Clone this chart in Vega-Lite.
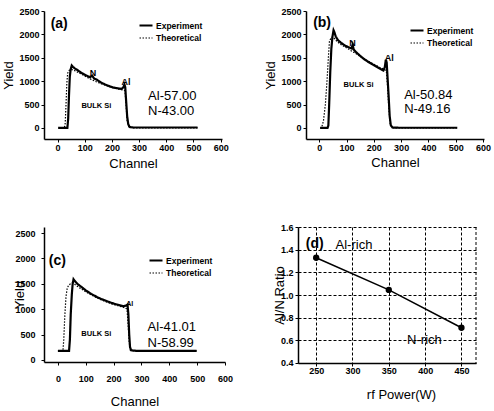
{
  "$schema": "https://vega.github.io/schema/vega-lite/v6.json",
  "background": "white",
  "padding": {"left": 2, "top": 7, "right": 5, "bottom": 5},
  "config": {
    "view": {"stroke": null},
    "font": "Liberation Sans",
    "axis": {"labelFont": "Liberation Sans", "labelFontWeight": "bold", "labelFontSize": 9, "labelColor": "black",
             "titleFont": "Liberation Sans", "titleFontSize": 13, "titleFontWeight": "normal", "titleColor": "black",
             "tickSize": 3, "tickColor": "black", "domainColor": "black", "domainWidth": 1.5, "grid": false,
             "labelOverlap": false, "labelFlush": false, "labelBound": false},
    "legend": {"symbolType": "stroke", "symbolStrokeColor": "black", "symbolSize": 169, "labelFont": "Liberation Sans",
               "labelFontSize": 8.5, "labelFontWeight": "bold", "labelColor": "black", "padding": 0, "labelOffset": 2, "title": null},
    "text": {"font": "Liberation Sans", "color": "black"}
  },
  "resolve": {"scale": {"strokeDash": "independent", "strokeWidth": "independent"}, "legend": {"strokeDash": "independent", "strokeWidth": "independent"}},
  "datasets": {
    "a": [
      {"ch": 2, "y": 0, "series": "Experiment"}, {"ch": 36, "y": 0, "series": "Experiment"}, {"ch": 39, "y": 200, "series": "Experiment"},
      {"ch": 42, "y": 700, "series": "Experiment"}, {"ch": 45, "y": 1100, "series": "Experiment"}, {"ch": 48, "y": 1250, "series": "Experiment"},
      {"ch": 52, "y": 1335, "series": "Experiment"}, {"ch": 56, "y": 1310, "series": "Experiment"}, {"ch": 62, "y": 1280, "series": "Experiment"},
      {"ch": 70, "y": 1250, "series": "Experiment"}, {"ch": 80, "y": 1210, "series": "Experiment"}, {"ch": 90, "y": 1170, "series": "Experiment"},
      {"ch": 100, "y": 1140, "series": "Experiment"}, {"ch": 110, "y": 1110, "series": "Experiment"}, {"ch": 120, "y": 1085, "series": "Experiment"},
      {"ch": 127, "y": 1120, "series": "Experiment"}, {"ch": 134, "y": 1060, "series": "Experiment"}, {"ch": 145, "y": 1030, "series": "Experiment"},
      {"ch": 160, "y": 970, "series": "Experiment"}, {"ch": 175, "y": 930, "series": "Experiment"}, {"ch": 190, "y": 895, "series": "Experiment"},
      {"ch": 205, "y": 865, "series": "Experiment"}, {"ch": 220, "y": 850, "series": "Experiment"}, {"ch": 235, "y": 835, "series": "Experiment"},
      {"ch": 242, "y": 870, "series": "Experiment"}, {"ch": 246, "y": 930, "series": "Experiment"}, {"ch": 249, "y": 870, "series": "Experiment"},
      {"ch": 252, "y": 600, "series": "Experiment"}, {"ch": 256, "y": 250, "series": "Experiment"}, {"ch": 260, "y": 80, "series": "Experiment"},
      {"ch": 265, "y": 20, "series": "Experiment"}, {"ch": 280, "y": 10, "series": "Experiment"}, {"ch": 400, "y": 10, "series": "Experiment"},
      {"ch": 515, "y": 10, "series": "Experiment"},
      {"ch": 5, "y": 0, "series": "Theoretical"}, {"ch": 25, "y": 0, "series": "Theoretical"}, {"ch": 28, "y": 100, "series": "Theoretical"},
      {"ch": 31, "y": 500, "series": "Theoretical"}, {"ch": 34, "y": 950, "series": "Theoretical"}, {"ch": 37, "y": 1170, "series": "Theoretical"},
      {"ch": 42, "y": 1230, "series": "Theoretical"}, {"ch": 50, "y": 1255, "series": "Theoretical"}, {"ch": 60, "y": 1235, "series": "Theoretical"},
      {"ch": 70, "y": 1205, "series": "Theoretical"}, {"ch": 85, "y": 1160, "series": "Theoretical"}, {"ch": 100, "y": 1110, "series": "Theoretical"},
      {"ch": 120, "y": 1050, "series": "Theoretical"}, {"ch": 140, "y": 995, "series": "Theoretical"}, {"ch": 160, "y": 945, "series": "Theoretical"},
      {"ch": 180, "y": 905, "series": "Theoretical"}, {"ch": 200, "y": 865, "series": "Theoretical"}, {"ch": 220, "y": 835, "series": "Theoretical"},
      {"ch": 240, "y": 815, "series": "Theoretical"}, {"ch": 248, "y": 795, "series": "Theoretical"}, {"ch": 252, "y": 500, "series": "Theoretical"},
      {"ch": 256, "y": 150, "series": "Theoretical"}, {"ch": 262, "y": 20, "series": "Theoretical"}, {"ch": 280, "y": 0, "series": "Theoretical"},
      {"ch": 515, "y": 0, "series": "Theoretical"}
    ],
    "b": [
      {"ch": 3, "y": 0, "series": "Experiment"}, {"ch": 30, "y": 0, "series": "Experiment"}, {"ch": 33, "y": 50, "series": "Experiment"},
      {"ch": 36, "y": 500, "series": "Experiment"}, {"ch": 40, "y": 1200, "series": "Experiment"}, {"ch": 44, "y": 1700, "series": "Experiment"},
      {"ch": 48, "y": 1950, "series": "Experiment"}, {"ch": 52, "y": 2090, "series": "Experiment"}, {"ch": 55, "y": 2050, "series": "Experiment"},
      {"ch": 60, "y": 1960, "series": "Experiment"}, {"ch": 68, "y": 1880, "series": "Experiment"}, {"ch": 80, "y": 1820, "series": "Experiment"},
      {"ch": 95, "y": 1760, "series": "Experiment"}, {"ch": 110, "y": 1720, "series": "Experiment"}, {"ch": 118, "y": 1700, "series": "Experiment"},
      {"ch": 122, "y": 1780, "series": "Experiment"}, {"ch": 126, "y": 1680, "series": "Experiment"}, {"ch": 135, "y": 1620, "series": "Experiment"},
      {"ch": 150, "y": 1540, "series": "Experiment"}, {"ch": 165, "y": 1470, "series": "Experiment"}, {"ch": 180, "y": 1410, "series": "Experiment"},
      {"ch": 195, "y": 1360, "series": "Experiment"}, {"ch": 210, "y": 1310, "series": "Experiment"}, {"ch": 225, "y": 1260, "series": "Experiment"},
      {"ch": 235, "y": 1230, "series": "Experiment"}, {"ch": 240, "y": 1300, "series": "Experiment"}, {"ch": 244, "y": 1460, "series": "Experiment"},
      {"ch": 247, "y": 1400, "series": "Experiment"}, {"ch": 250, "y": 1100, "series": "Experiment"}, {"ch": 254, "y": 700, "series": "Experiment"},
      {"ch": 258, "y": 250, "series": "Experiment"}, {"ch": 262, "y": 60, "series": "Experiment"}, {"ch": 268, "y": 10, "series": "Experiment"},
      {"ch": 290, "y": 5, "series": "Experiment"}, {"ch": 400, "y": 5, "series": "Experiment"}, {"ch": 506, "y": 5, "series": "Experiment"},
      {"ch": 3, "y": 0, "series": "Theoretical"}, {"ch": 8, "y": 0, "series": "Theoretical"}, {"ch": 15, "y": 150, "series": "Theoretical"},
      {"ch": 22, "y": 500, "series": "Theoretical"}, {"ch": 28, "y": 1000, "series": "Theoretical"}, {"ch": 33, "y": 1500, "series": "Theoretical"},
      {"ch": 37, "y": 1850, "series": "Theoretical"}, {"ch": 43, "y": 1930, "series": "Theoretical"}, {"ch": 50, "y": 1950, "series": "Theoretical"},
      {"ch": 60, "y": 1880, "series": "Theoretical"}, {"ch": 75, "y": 1800, "series": "Theoretical"}, {"ch": 95, "y": 1730, "series": "Theoretical"},
      {"ch": 120, "y": 1640, "series": "Theoretical"}, {"ch": 145, "y": 1550, "series": "Theoretical"}, {"ch": 170, "y": 1460, "series": "Theoretical"},
      {"ch": 195, "y": 1380, "series": "Theoretical"}, {"ch": 220, "y": 1300, "series": "Theoretical"}, {"ch": 240, "y": 1250, "series": "Theoretical"},
      {"ch": 246, "y": 1200, "series": "Theoretical"}, {"ch": 250, "y": 900, "series": "Theoretical"}, {"ch": 255, "y": 400, "series": "Theoretical"},
      {"ch": 260, "y": 80, "series": "Theoretical"}, {"ch": 268, "y": 0, "series": "Theoretical"}, {"ch": 506, "y": 0, "series": "Theoretical"}
    ],
    "c": [
      {"ch": 0, "y": 180, "series": "Experiment"}, {"ch": 40, "y": 180, "series": "Experiment"}, {"ch": 43, "y": 400, "series": "Experiment"},
      {"ch": 46, "y": 900, "series": "Experiment"}, {"ch": 50, "y": 1300, "series": "Experiment"}, {"ch": 53, "y": 1500, "series": "Experiment"},
      {"ch": 56, "y": 1590, "series": "Experiment"}, {"ch": 60, "y": 1560, "series": "Experiment"}, {"ch": 70, "y": 1500, "series": "Experiment"},
      {"ch": 84, "y": 1440, "series": "Experiment"}, {"ch": 100, "y": 1370, "series": "Experiment"}, {"ch": 120, "y": 1300, "series": "Experiment"},
      {"ch": 140, "y": 1240, "series": "Experiment"}, {"ch": 156, "y": 1200, "series": "Experiment"}, {"ch": 175, "y": 1160, "series": "Experiment"},
      {"ch": 192, "y": 1125, "series": "Experiment"}, {"ch": 210, "y": 1095, "series": "Experiment"}, {"ch": 234, "y": 1060, "series": "Experiment"},
      {"ch": 245, "y": 1070, "series": "Experiment"}, {"ch": 250, "y": 1090, "series": "Experiment"}, {"ch": 253, "y": 900, "series": "Experiment"},
      {"ch": 256, "y": 500, "series": "Experiment"}, {"ch": 259, "y": 250, "series": "Experiment"}, {"ch": 263, "y": 190, "series": "Experiment"},
      {"ch": 280, "y": 180, "series": "Experiment"}, {"ch": 498, "y": 180, "series": "Experiment"},
      {"ch": 0, "y": 180, "series": "Theoretical"}, {"ch": 18, "y": 180, "series": "Theoretical"}, {"ch": 21, "y": 400, "series": "Theoretical"},
      {"ch": 25, "y": 900, "series": "Theoretical"}, {"ch": 29, "y": 1250, "series": "Theoretical"}, {"ch": 33, "y": 1400, "series": "Theoretical"},
      {"ch": 38, "y": 1470, "series": "Theoretical"}, {"ch": 45, "y": 1500, "series": "Theoretical"}, {"ch": 52, "y": 1520, "series": "Theoretical"},
      {"ch": 60, "y": 1490, "series": "Theoretical"}, {"ch": 75, "y": 1430, "series": "Theoretical"}, {"ch": 95, "y": 1360, "series": "Theoretical"},
      {"ch": 120, "y": 1280, "series": "Theoretical"}, {"ch": 145, "y": 1210, "series": "Theoretical"}, {"ch": 170, "y": 1150, "series": "Theoretical"},
      {"ch": 195, "y": 1100, "series": "Theoretical"}, {"ch": 220, "y": 1060, "series": "Theoretical"}, {"ch": 240, "y": 1030, "series": "Theoretical"},
      {"ch": 248, "y": 1000, "series": "Theoretical"}, {"ch": 252, "y": 700, "series": "Theoretical"}, {"ch": 256, "y": 350, "series": "Theoretical"},
      {"ch": 260, "y": 190, "series": "Theoretical"}, {"ch": 270, "y": 180, "series": "Theoretical"}, {"ch": 498, "y": 180, "series": "Theoretical"}
    ],
    "d": [
      {"power": 250, "ratio": 1.33}, {"power": 350, "ratio": 1.045}, {"power": 450, "ratio": 0.71}
    ]
  },
  "vconcat": [
    {
      "resolve": {"scale": {"strokeDash": "independent", "strokeWidth": "independent"}, "legend": {"strokeDash": "independent", "strokeWidth": "independent"}},
      "hconcat": [
        {
          "width": 178, "height": 128,
          "encoding": {
            "x": {"field": "ch", "type": "quantitative", "scale": {"domain": [-50, 605], "nice": false},
                  "axis": {"values": [0, 100, 200, 300, 400, 500, 600], "tickCount": 7, "labelOverlap": false, "format": "d", "title": "Channel", "labelPadding": 1, "titlePadding": 5}},
            "y": {"field": "y", "type": "quantitative", "scale": {"domain": [-236, 2502], "nice": false},
                  "axis": {"values": [0, 500, 1000, 1500, 2000, 2499], "tickCount": 6, "labelOverlap": false, "format": "d",
                           "labelExpr": "datum.value > 2400 ? '2500' : datum.label", "title": "Yield", "minExtent": 26, "maxExtent": 26, "titlePadding": 3}}
          },
          "layer": [
            {
              "data": {"name": "a"},
              "mark": {"type": "line", "color": "black"},
              "encoding": {
                "strokeDash": {"field": "series", "type": "nominal", "scale": {"domain": ["Experiment", "Theoretical"], "range": [[1, 0], [1.5, 1.5]]},
                               "legend": {"orient": "none", "legendX": 94, "legendY": 6.5, "rowPadding": 0}},
                "strokeWidth": {"field": "series", "type": "nominal", "scale": {"domain": ["Experiment", "Theoretical"], "range": [2.2, 1.2]}}
              }
            },
            {
              "data": {"values": [{"t": "(a)", "ch": 6, "y": 2217}]},
              "mark": {"type": "text", "fontSize": 14, "fontWeight": "bold", "color": "black"},
              "encoding": {"text": {"field": "t"}}
            },
            {
              "data": {"values": [{"t": "Al-57.00", "ch": 333, "y": 694}, {"t": "N-43.00", "ch": 333, "y": 361}]},
              "mark": {"type": "text", "fontSize": 13, "align": "left", "color": "black"},
              "encoding": {"text": {"field": "t"}}
            },
            {
              "data": {"values": [{"t": "N", "ch": 130, "y": 1180}, {"t": "Al", "ch": 252, "y": 980}]},
              "mark": {"type": "text", "fontSize": 9, "fontWeight": "bold", "color": "black"},
              "encoding": {"text": {"field": "t"}}
            },
            {
              "data": {"values": [{"t": "BULK Si", "ch": 143, "y": 467}]},
              "mark": {"type": "text", "fontSize": 7.5, "fontWeight": "bold", "color": "black"},
              "encoding": {"text": {"field": "t"}}
            }
          ]
        },
        {
          "width": 178, "height": 128,
          "encoding": {
            "x": {"field": "ch", "type": "quantitative", "scale": {"domain": [-49, 604], "nice": false},
                  "axis": {"values": [0, 100, 200, 300, 400, 500, 600], "tickCount": 7, "labelOverlap": false, "format": "d", "title": "Channel", "labelPadding": 1, "titlePadding": 4}},
            "y": {"field": "y", "type": "quantitative", "scale": {"domain": [-236, 2502], "nice": false},
                  "axis": {"values": [0, 500, 1000, 1500, 2000, 2500], "tickCount": 6, "labelOverlap": false, "format": "d", "title": "Yield", "minExtent": 26, "maxExtent": 26, "titlePadding": 3}}
          },
          "layer": [
            {
              "data": {"name": "b"},
              "mark": {"type": "line", "color": "black"},
              "encoding": {
                "strokeDash": {"field": "series", "type": "nominal", "scale": {"domain": ["Experiment", "Theoretical"], "range": [[1, 0], [1.5, 1.5]]},
                               "legend": {"orient": "none", "legendX": 103, "legendY": 11.5, "rowPadding": 0}},
                "strokeWidth": {"field": "series", "type": "nominal", "scale": {"domain": ["Experiment", "Theoretical"], "range": [2.2, 1.2]}}
              }
            },
            {
              "data": {"values": [{"t": "(b)", "ch": 10, "y": 2243}]},
              "mark": {"type": "text", "fontSize": 14, "fontWeight": "bold", "color": "black"},
              "encoding": {"text": {"field": "t"}}
            },
            {
              "data": {"values": [{"t": "Al-50.84", "ch": 311, "y": 714}, {"t": "N-49.16", "ch": 311, "y": 407}]},
              "mark": {"type": "text", "fontSize": 13, "align": "left", "color": "black"},
              "encoding": {"text": {"field": "t"}}
            },
            {
              "data": {"values": [{"t": "N", "ch": 122, "y": 1820}, {"t": "Al", "ch": 256, "y": 1500}]},
              "mark": {"type": "text", "fontSize": 9, "fontWeight": "bold", "color": "black"},
              "encoding": {"text": {"field": "t"}}
            },
            {
              "data": {"values": [{"t": "BULK Si", "ch": 144, "y": 929}]},
              "mark": {"type": "text", "fontSize": 7.5, "fontWeight": "bold", "color": "black"},
              "encoding": {"text": {"field": "t"}}
            }
          ]
        }
      ],
      "spacing": 84,
      "bounds": "flush"
    },
    {
      "resolve": {"scale": {"strokeDash": "independent", "strokeWidth": "independent"}, "legend": {"strokeDash": "independent", "strokeWidth": "independent"}},
      "hconcat": [
        {
          "width": 181, "height": 135,
          "encoding": {
            "x": {"field": "ch", "type": "quantitative", "scale": {"domain": [-50, 600], "nice": false},
                  "axis": {"values": [0, 100, 200, 300, 400, 500, 600], "tickCount": 7, "labelOverlap": false, "format": "d", "title": "Channel", "labelPadding": 9, "titlePadding": 12}},
            "y": {"field": "y", "type": "quantitative", "scale": {"domain": [-41, 2620], "nice": false},
                  "axis": {"values": [0, 500, 1000, 1500, 2000, 2500], "tickCount": 6, "labelOverlap": false, "format": "d", "title": "Yield", "labelPadding": 6, "minExtent": 18, "maxExtent": 18, "titlePadding": 0}}
          },
          "layer": [
            {
              "data": {"name": "c"},
              "mark": {"type": "line", "color": "black"},
              "encoding": {
                "strokeDash": {"field": "series", "type": "nominal", "scale": {"domain": ["Experiment", "Theoretical"], "range": [[1, 0], [1.5, 1.5]]},
                               "legend": {"orient": "none", "legendX": 104, "legendY": 25.5, "rowPadding": -2}},
                "strokeWidth": {"field": "series", "type": "nominal", "scale": {"domain": ["Experiment", "Theoretical"], "range": [2.2, 1.2]}}
              }
            },
            {
              "data": {"values": [{"t": "(c)", "ch": -2, "y": 1943}]},
              "mark": {"type": "text", "fontSize": 14, "fontWeight": "bold", "color": "black"},
              "encoding": {"text": {"field": "t"}}
            },
            {
              "data": {"values": [{"t": "Al-41.01", "ch": 322, "y": 656}, {"t": "N-58.99", "ch": 322, "y": 335}]},
              "mark": {"type": "text", "fontSize": 13, "align": "left", "color": "black"},
              "encoding": {"text": {"field": "t"}}
            },
            {
              "data": {"values": [{"t": "Al", "ch": 258, "y": 1110}]},
              "mark": {"type": "text", "fontSize": 7, "fontWeight": "bold", "color": "black"},
              "encoding": {"text": {"field": "t"}}
            },
            {
              "data": {"values": [{"t": "BULK Si", "ch": 138, "y": 512}]},
              "mark": {"type": "text", "fontSize": 7.5, "fontWeight": "bold", "color": "black"},
              "encoding": {"text": {"field": "t"}}
            }
          ]
        },
        {
          "width": 178, "height": 136,
          "encoding": {
            "x": {"field": "power", "type": "quantitative", "scale": {"domain": [225, 470], "nice": false, "zero": false},
                  "axis": {"values": [250, 300, 350, 400, 450], "tickCount": 5, "labelOverlap": false, "format": "d", "title": "rf Power(W)", "labelPadding": 0, "titlePadding": 13, "titleX": 103,
                           "grid": true, "gridColor": "black", "gridDash": [3, 2], "gridOpacity": 1, "gridWidth": 1}},
            "y": {"field": "ratio", "type": "quantitative", "scale": {"domain": [0.398, 1.602], "nice": false, "zero": false},
                  "axis": {"values": [0.4, 0.6, 0.8, 1.0, 1.2, 1.4, 1.6], "tickCount": 7, "labelOverlap": false, "format": ".1f", "title": "Al/N  Ratio", "labelPadding": 2, "minExtent": 12, "maxExtent": 12, "titlePadding": 0,
                           "grid": true, "gridColor": "black", "gridDash": [3, 2], "gridOpacity": 1, "gridWidth": 1}}
          },
          "layer": [
            {
              "data": {"name": "d"},
              "mark": {"type": "line", "color": "black", "strokeWidth": 1.5, "point": {"filled": true, "size": 40, "color": "black"}}
            },
            {
              "data": {"values": [{"power": 470}]},
              "mark": {"type": "rule", "color": "black", "strokeDash": [3, 2], "strokeWidth": 1},
              "encoding": {"y": null}
            },
            {
              "data": {"values": [{"t": "(d)", "power": 248, "ratio": 1.45}]},
              "mark": {"type": "text", "fontSize": 14, "fontWeight": "bold", "color": "black"},
              "encoding": {"text": {"field": "t"}}
            },
            {
              "data": {"values": [{"t": "Al-rich", "power": 302, "ratio": 1.44}, {"t": "N-rich", "power": 399, "ratio": 0.6}]},
              "mark": {"type": "text", "fontSize": 13, "color": "black"},
              "encoding": {"text": {"field": "t"}}
            }
          ]
        }
      ],
      "spacing": 73,
      "bounds": "flush"
    }
  ],
  "spacing": 216,
  "bounds": "flush"
}
